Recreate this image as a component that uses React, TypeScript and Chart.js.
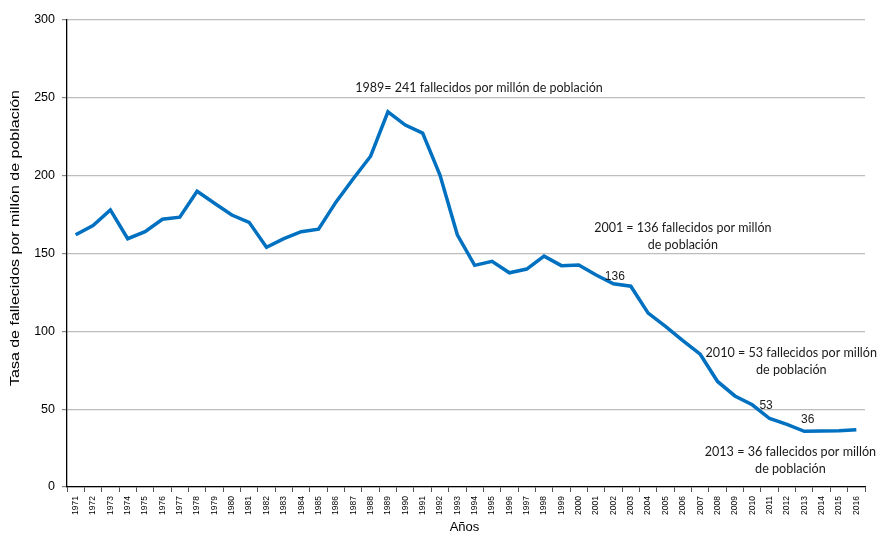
import React, { useEffect, useRef } from "react";
import { Chart, registerables } from "chart.js";

Chart.register(...registerables);

const years: string[] = [
  "1971", "1972", "1973", "1974", "1975", "1976", "1977", "1978", "1979", "1980",
  "1981", "1982", "1983", "1984", "1985", "1986", "1987", "1988", "1989", "1990",
  "1991", "1992", "1993", "1994", "1995", "1996", "1997", "1998", "1999", "2000",
  "2001", "2002", "2003", "2004", "2005", "2006", "2007", "2008", "2009", "2010",
  "2011", "2012", "2013", "2014", "2015", "2016",
];

const tasa: number[] = [
  162, 168, 178, 159.5, 164, 172, 173.3, 190, 182.3, 174.7,
  170, 154, 159.5, 164, 165.6, 183, 198, 212.5, 241, 232.5,
  227.3, 200.4, 162, 142.4, 145, 137.6, 140, 148.3, 142.2, 142.6,
  136.2, 130.6, 129, 111.7, 103.2, 94, 85.3, 67.8, 58.5, 52.8,
  44, 40.2, 35.8, 36, 36.1, 36.7,
];

const yTicks: number[] = [0, 50, 100, 150, 200, 250, 300];

const yTitle = "Tasa de fallecidos por millón de población";
const xTitle = "Años";

// annotations: text lines placed in data space (x = category index, y = value)
const notes: { lines: string[]; x: number; y: number; kind: "note" | "value"; size: number }[] = [
  { lines: ["1989= 241 fallecidos por millón de población"], x: 23.25, y: 256.3, kind: "note", size: 12.5 },
  { lines: ["2001 = 136 fallecidos por millón", "de población"], x: 35.0, y: 166.4, kind: "note", size: 12.5 },
  { lines: ["136"], x: 31.08, y: 134.9, kind: "value", size: 12 },
  { lines: ["2010 = 53 fallecidos por millón", "de población"], x: 41.25, y: 86.1, kind: "note", size: 12.6 },
  { lines: ["53"], x: 39.8, y: 52.0, kind: "value", size: 12 },
  { lines: ["36"], x: 42.2, y: 43.0, kind: "value", size: 12 },
  { lines: ["2013 = 36 fallecidos por millón", "de población"], x: 41.2, y: 22.5, kind: "note", size: 12.6 },
];

const textPlugin = {
  id: "textPlugin",
  afterDraw(chart: any) {
    const { ctx, scales, chartArea } = chart;
    const xs = scales.x;
    const ys = scales.y;
    ctx.save();
    ctx.fillStyle = "#1a1a1a";
    ctx.textAlign = "center";
    ctx.textBaseline = "middle";
    for (const n of notes) {
      const px = xs.getPixelForValue(n.x);
      const py = ys.getPixelForValue(n.y);
      if (n.kind === "note") {
        ctx.font = `${n.size}px Lato`;
        n.lines.forEach((l, i) => ctx.fillText(l, px, py + i * 16.5));
      } else {
        ctx.font = `${n.size}px 'Liberation Sans', Arial`;
        ctx.fillText(n.lines[0], px, py);
      }
    }
    // axis titles
    ctx.fillStyle = "#000";
    ctx.font = "13px 'Liberation Sans', Arial";
    ctx.fillText(xTitle, (chartArea.left + chartArea.right) / 2 - 1.5, 527);
    ctx.translate(15.5, chartArea.top + (chartArea.bottom - chartArea.top) / 2 - 15.5);
    ctx.rotate(-Math.PI / 2);
    const w = ctx.measureText(yTitle).width;
    ctx.scale(296 / w, 1);
    ctx.fillText(yTitle, 0, 0);
    ctx.restore();
  },
};

export default function App() {
  const ref = useRef<HTMLCanvasElement | null>(null);
  useEffect(() => {
    document.body.style.margin = "0";
    const canvas = ref.current;
    if (!canvas) return;
    const chart = new Chart(canvas, {
      type: "line",
      data: {
        labels: years,
        datasets: [
          {
            label: "Tasa",
            data: tasa,
            borderColor: "#0070C0",
            borderWidth: 3.5,
            pointRadius: 0,
            tension: 0,
            fill: false,
          },
        ],
      },
      options: {
        animation: false,
        responsive: true,
        maintainAspectRatio: false,
        layout: { padding: { left: 0, right: 12, top: 20, bottom: 0 } },
        plugins: { legend: { display: false }, tooltip: { enabled: false } },
        scales: {
          x: {
            type: "category",
            offset: true,
            afterFit: (s: any) => {
              s.height = 47;
            },
            border: { display: true, color: "#000", width: 1.3 },
            grid: {
              display: true,
              offset: true,
              drawOnChartArea: false,
              drawTicks: true,
              tickLength: 5,
              tickColor: "#555",
            },
            ticks: {
              autoSkip: false,
              maxRotation: 90,
              minRotation: 90,
              padding: 4,
              color: "#000",
              font: { family: "'Liberation Sans', Arial", size: 8.5 },
            },
          },
          y: {
            min: 0,
            max: 300,
            afterFit: (s: any) => {
              s.width = 67;
            },
            afterBuildTicks: (s: any) => {
              s.ticks = yTicks.map((v) => ({ value: v }));
            },
            border: { display: true, color: "#000", width: 1.3 },
            grid: {
              color: "#bdbdbd",
              lineWidth: 1.2,
              tickLength: 5,
              tickColor: "#888",
            },
            ticks: {
              padding: 7,
              color: "#000",
              font: { family: "'Liberation Sans', Arial", size: 12.5 },
            },
          },
        },
      },
      plugins: [textPlugin],
    });
    return () => chart.destroy();
  }, []);
  return (
    <div style={{ position: "absolute", left: 0, top: 0, width: 877, height: 534 }}>
      <canvas ref={ref} />
    </div>
  );
}
